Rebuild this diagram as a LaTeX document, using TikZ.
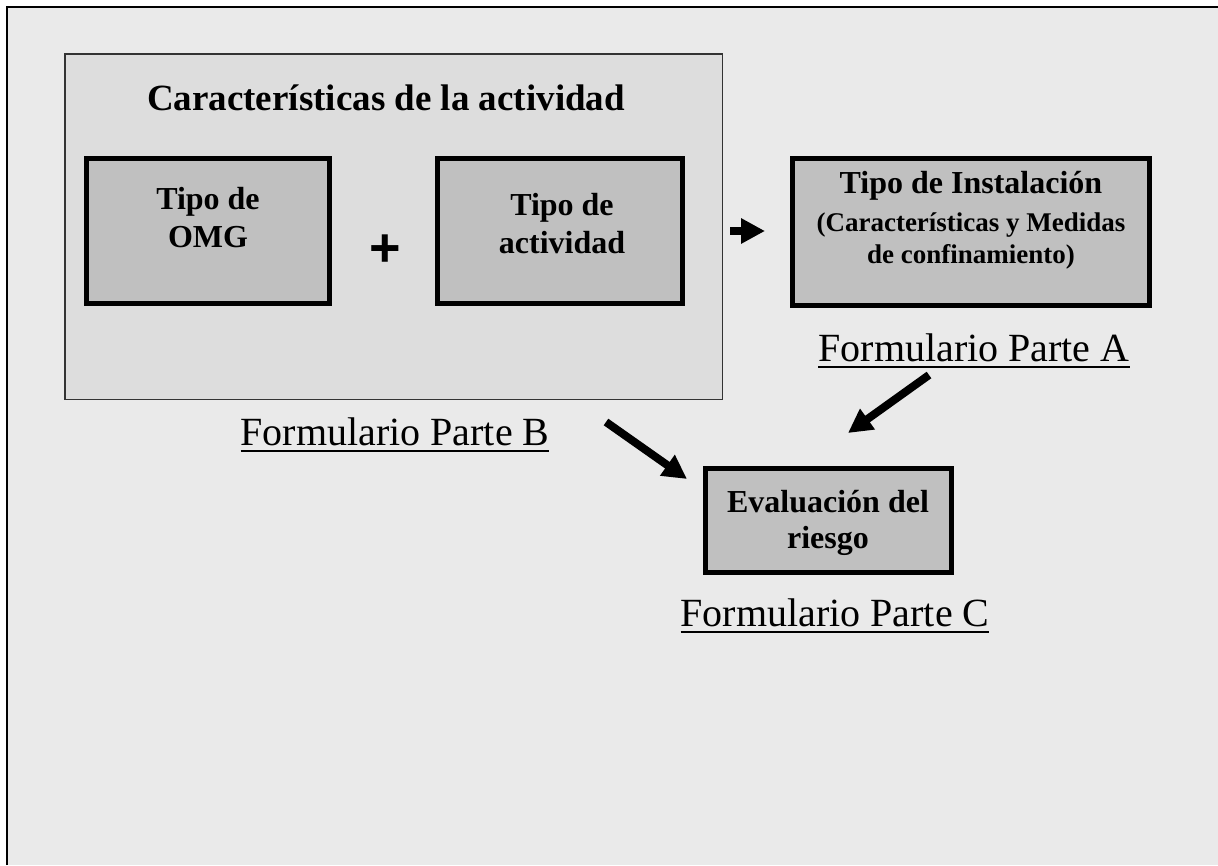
\documentclass[tikz,border=0pt]{standalone}
\usepackage{fontspec}
\setmainfont{Liberation Serif}
\newfontfamily\plusfont{Liberation Sans}
\usetikzlibrary{arrows.meta}
\definecolor{bgc}{HTML}{EAEAEA}
\definecolor{panelc}{HTML}{DDDDDD}
\definecolor{boxc}{HTML}{C0C0C0}
\definecolor{edgec}{HTML}{333333}
\newcommand{\ulined}[1]{\setbox0=\hbox{#1}\rlap{\rule[-7pt]{\wd0}{2pt}}\box0}
\begin{document}
\begin{tikzpicture}[x=1pt,y=-1pt,
  thickbox/.style={draw=black,line width=5pt,fill=boxc,inner sep=0pt,rectangle},
  panelbox/.style={draw=edgec,line width=1.5pt,fill=panelc,inner sep=0pt,rectangle},
  boldtxt/.style={anchor=base,inner sep=0pt,font=\fontsize{32}{36}\selectfont\bfseries},
  smalltxt/.style={anchor=base,inner sep=0pt,font=\fontsize{27}{30}\selectfont\bfseries},
  formtxt/.style={anchor=base,inner sep=0pt,font=\fontsize{40}{44}\selectfont},
  blockarrow/.style={line width=8pt,-{Triangle[width=24pt,length=24pt]}}
]
\useasboundingbox (0,0) rectangle (1218,865);
\fill[white] (0,0) rectangle (1218,865);
\fill[bgc] (7,7) rectangle (1218,865);
\draw[line width=2pt] (7,865) -- (7,7) -- (1218,7);

\node[panelbox,minimum width=657.5pt,minimum height=345.5pt] (panel) at (393.5,226.5) {};
\node[anchor=base,inner sep=0pt,font=\fontsize{37}{40}\selectfont\bfseries] (title) at (386,110) {Características de la actividad};

\node[thickbox,minimum width=243pt,minimum height=145pt] (omg) at (208,231) {};
\node[boldtxt] (omg1) at (208,209) {Tipo de};
\node[boldtxt] (omg2) at (208,247) {OMG};

\node[anchor=base,inner sep=0pt,font=\plusfont\fontsize{54}{56}\selectfont\bfseries] (plus) at (385,266) {+};

\node[thickbox,minimum width=245pt,minimum height=145pt] (act) at (560,231) {};
\node[boldtxt] (act1) at (562,215) {Tipo de};
\node[boldtxt] (act2) at (562,253) {actividad};

\node[thickbox,minimum width=357pt,minimum height=147pt] (inst) at (971,232) {};
\node[boldtxt] (inst1) at (971,193) {Tipo de Instalación};
\node[smalltxt] (inst2) at (971,231) {(Características y Medidas};
\node[smalltxt] (inst3) at (971,263) {de confinamiento)};

\node[formtxt] (fa) at (974,361) {\ulined{Formulario Parte A}};
\node[formtxt] (fb) at (395,445) {\ulined{Formulario Parte B}};

\node[thickbox,minimum width=246pt,minimum height=104pt] (eval) at (828.5,520.5) {};
\node[boldtxt] (eval1) at (828,512) {Evaluación del};
\node[boldtxt] (eval2) at (828,548) {riesgo};

\node[formtxt] (fc) at (835,626) {\ulined{Formulario Parte C}};

\coordinate (s1) at (730,231);
\coordinate (e1) at (765,231);
\coordinate (s2) at (606,422);
\coordinate (e2) at (687,479);
\coordinate (s3) at (929,375);
\coordinate (e3) at (848,433);
\draw[blockarrow] (s1) -- (e1);
\draw[blockarrow] (s2) -- (e2);
\draw[blockarrow] (s3) -- (e3);
\end{tikzpicture}
\end{document}
